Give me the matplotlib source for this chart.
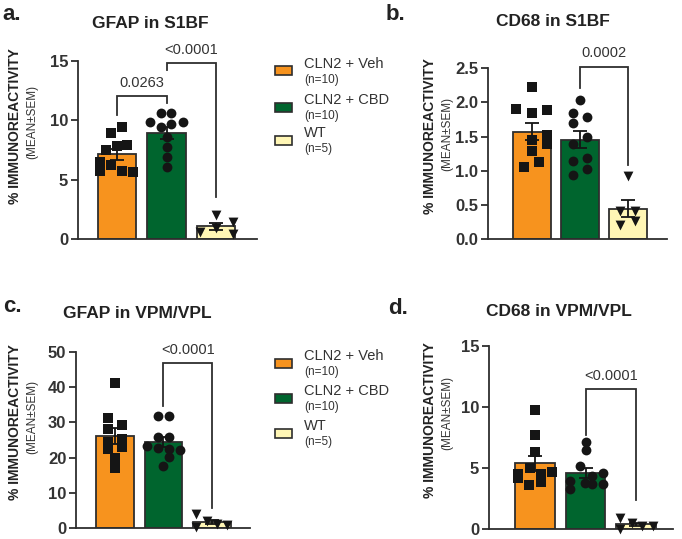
import numpy as np
import matplotlib
matplotlib.use('Agg')
import matplotlib.pyplot as plt
from matplotlib.patches import Rectangle

plt.rcParams['font.family'] = ['Liberation Sans', 'DejaVu Sans']

W, H = 682, 539

groups = ['CLN2 + Veh', 'CLN2 + CBD', 'WT']
group_n = ['(n=10)', '(n=10)', '(n=5)']
colors = ['#F7931E', '#00652E', '#FFF6B5']
markers = ['s', 'o', 'v']

# a. GFAP in S1BF
gfap_s1bf_veh = [9.45, 8.9, 7.95, 7.85, 7.5, 6.45, 6.2, 5.7, 5.7, 5.65]
gfap_s1bf_cbd = [10.6, 10.6, 9.88, 9.88, 9.69, 9.46, 8.57, 7.72, 6.88, 6.09]
gfap_s1bf_wt = [2.05, 1.4, 0.95, 0.55, 0.4]

# b. CD68 in S1BF
cd68_s1bf_veh = [2.23, 1.90, 1.85, 1.89, 1.52, 1.45, 1.39, 1.29, 1.13, 1.06]
cd68_s1bf_cbd = [2.04, 1.85, 1.78, 1.70, 1.50, 1.39, 1.19, 1.14, 1.03, 0.94]
cd68_s1bf_wt = [0.93, 0.415, 0.415, 0.27, 0.21]

# c. GFAP in VPM/VPL
gfap_vpm_veh = [41.3, 31.2, 29.3, 28.0, 25.3, 24.3, 22.9, 22.4, 19.8, 17.0]
gfap_vpm_cbd = [31.8, 31.8, 25.9, 25.9, 23.3, 22.6, 22.4, 22.2, 20.1, 17.6]
gfap_vpm_wt = [3.9, 1.9, 1.2, 0.9, 0.3]

# d. CD68 in VPM/VPL
cd68_vpm_veh = [9.76, 7.71, 6.3, 5.04, 4.66, 4.52, 4.5, 4.17, 3.85, 3.63]
cd68_vpm_cbd = [7.17, 6.49, 5.18, 4.58, 4.39, 3.95, 3.76, 3.68, 3.68, 3.3]
cd68_vpm_wt = [0.9, 0.49, 0.3, 0.3, 0.05]

# p values: (group i, group j, label)
p_a = [(0, 1, '0.0263'), (1, 2, '<0.0001')]
p_b = [(1, 2, '0.0002')]
p_c = [(1, 2, '<0.0001')]
p_d = [(1, 2, '<0.0001')]

# horizontal scatter of the points (bar units)
jit_a = [[0.1, -0.12, 0.2, 0, -0.22, -0.34, -0.12, -0.34, 0.1, 0.32],
         [-0.11, 0.09, -0.33, 0.33, 0.09, -0.11, 0, 0, 0, 0],
         [0, 0.34, 0, -0.32, 0.34]]
jit_b = [[0, -0.34, 0, 0.3, 0.3, 0, 0.3, 0, 0.14, -0.18],
         [0, -0.15, 0.14, -0.15, 0.14, -0.15, 0.14, -0.15, 0.14, -0.15],
         [0, -0.16, 0.15, 0.15, -0.16]]
jit_c = [[0, -0.14, 0.14, -0.14, 0.14, -0.14, 0.14, -0.14, 0, 0],
         [-0.11, 0.11, -0.11, 0.11, -0.34, -0.11, 0.11, 0.34, 0.11, 0],
         [-0.33, -0.11, 0.1, 0.3, -0.33]]
jit_d = [[0, 0, 0, -0.1, 0.33, 0.12, -0.33, -0.33, 0.12, -0.12],
         [0, 0, -0.11, 0.35, 0.12, -0.3, -0.02, 0.12, 0.35, -0.3],
         [-0.31, -0.08, 0.11, 0.34, -0.31]]

DARK = '#2e2e2e'
LW = 1.3


def fig_rect(left, top, right, bottom):
    return [left / W, 1 - bottom / H, (right - left) / W, (bottom - top) / H]


def panel(rect, xlim, ylim, yticks, ticklabels, data, jit, pvals, brackets,
          title, title_xy, letter, letter_xy, ylab_xy, width=0.78):
    ax = fig.add_axes(fig_rect(*rect))
    x = np.arange(3)
    means = [np.mean(d) for d in data]
    sems = [np.std(d, ddof=1) / np.sqrt(len(d)) for d in data]
    ax.bar(x, means, width, color=colors, edgecolor=DARK, linewidth=LW, zorder=1)
    for i, d in enumerate(data):
        xs = i + np.array(jit[i])
        ax.scatter(xs, d, marker=markers[i], s=50, color='#151515',
                   linewidths=0, zorder=3, clip_on=False)
    ax.errorbar(x, means, yerr=sems, fmt='none', ecolor='#151515',
                elinewidth=LW, capsize=5, capthick=LW, zorder=4)
    for (i, j, lab), (ytop, yl, yr) in zip(pvals, brackets):
        ax.plot([i, i, j, j], [yl, ytop, ytop, yr], color=DARK, lw=LW,
                clip_on=False, solid_joinstyle='miter')
        ax.annotate(lab, ((i + j) / 2, ytop), xytext=(0, 9.5),
                    textcoords='offset points', ha='center', va='center',
                    fontsize=10.5, color='#333333', annotation_clip=False)
    ax.set_xlim(*xlim)
    ax.set_ylim(*ylim)
    ax.set_xticks([])
    ax.set_yticks(yticks)
    ax.set_yticklabels(ticklabels, fontweight='bold', fontsize=12, color='#333333')
    ax.tick_params(axis='y', length=5, width=LW, color=DARK, pad=2)
    for s in ['top', 'right']:
        ax.spines[s].set_visible(False)
    for s in ['left', 'bottom']:
        ax.spines[s].set_linewidth(LW)
        ax.spines[s].set_color(DARK)
    fig.text(title_xy[0] / W, 1 - title_xy[1] / H, title, ha='center',
             va='center', fontsize=12.5, fontweight='bold', color='#222222')
    fig.text(letter_xy[0] / W, 1 - letter_xy[1] / H, letter, ha='left',
             va='center', fontsize=16, fontweight='bold', color='#222222')
    fig.text(ylab_xy[0] / W, 1 - ylab_xy[1] / H, '% IMMUNOREACTIVITY',
             rotation=90, ha='center', va='center', fontsize=10,
             fontweight='bold', color='#222222')
    fig.text(ylab_xy[2] / W, 1 - ylab_xy[3] / H, '(MEAN±SEM)',
             rotation=90, ha='center', va='center', fontsize=8.5, color='#333333')
    return ax


def legend(x0, ys):
    for k, y in enumerate(ys):
        fig.add_artist(Rectangle(((x0) / W, 1 - (y + 4.5) / H), 17 / W, 9 / H,
                                 transform=fig.transFigure, facecolor=colors[k],
                                 edgecolor=DARK, linewidth=1.2))
        fig.text((x0 + 29) / W, 1 - (y - 7) / H, groups[k], ha='left',
                 va='center', fontsize=10.5, color='#333333')
        fig.text((x0 + 29) / W, 1 - (y + 9) / H, group_n[k], ha='left',
                 va='center', fontsize=8.5, color='#333333')


fig = plt.figure(figsize=(W / 100, H / 100), dpi=100)

panel((78, 61, 257, 239), (-0.79, 2.83), (0, 15), [0, 5, 10, 15],
      ['0', '5', '10', '15'],
      [gfap_s1bf_veh, gfap_s1bf_cbd, gfap_s1bf_wt], jit_a, p_a,
      [(12.05, 10.45, 11.45), (14.8, 14.2, 3.5)],
      'GFAP in S1BF', (150, 23), 'a.', (2, 15), (15, 126, 32, 122))

panel((488, 68, 667, 239.5), (-0.93, 2.82), (0, 2.5),
      [0, 0.5, 1.0, 1.5, 2.0, 2.5], ['0.0', '0.5', '1.0', '1.5', '2.0', '2.5'],
      [cd68_s1bf_veh, cd68_s1bf_cbd, cd68_s1bf_wt], jit_b, p_b,
      [(2.52, 2.21, 1.09)],
      'CD68 in S1BF', (553, 22), 'b.', (386, 15), (430, 136, 447, 134), width=0.8)

panel((76, 352, 250, 528), (-0.8, 2.78), (0, 50), [0, 10, 20, 30, 40, 50],
      ['0', '10', '20', '30', '40', '50'],
      [gfap_vpm_veh, gfap_vpm_cbd, gfap_vpm_wt], jit_c, p_c,
      [(46.8, 34.7, 5.6)],
      'GFAP in VPM/VPL', (137, 314), 'c.', (3, 307), (15, 422, 32, 417))

panel((489, 346, 673, 529.3), (-0.91, 2.73), (0, 15), [0, 5, 10, 15],
      ['0', '5', '10', '15'],
      [cd68_vpm_veh, cd68_vpm_cbd, cd68_vpm_wt], jit_d, p_d,
      [(11.46, 7.7, 2.4)],
      'CD68 in VPM/VPL', (559, 312), 'd.', (388, 308), (430, 420, 447, 413))

legend(275, [71, 107, 140])
legend(275, [363, 398, 433])

fig.savefig('out.png', dpi=100)
